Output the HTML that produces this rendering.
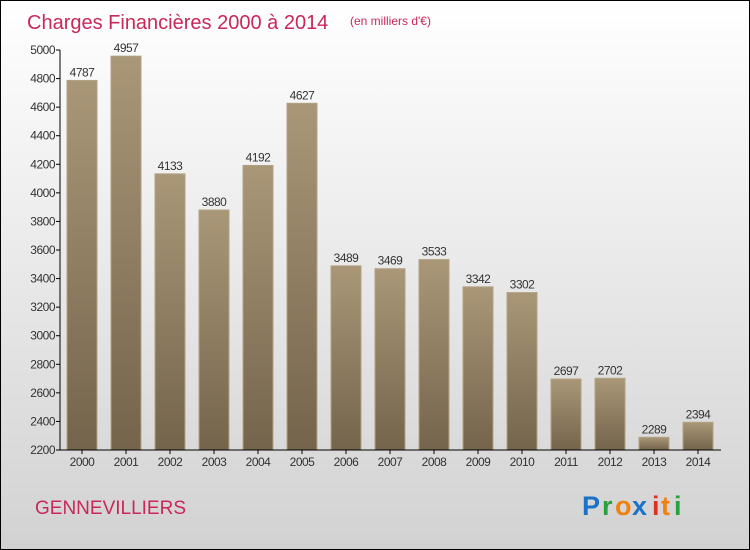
<!DOCTYPE html>
<html><head><meta charset="utf-8"><style>
body{margin:0;}
svg{display:block;font-family:"Liberation Sans",sans-serif;}
</style></head><body>
<svg id="c" width="750" height="550" xmlns="http://www.w3.org/2000/svg">
<defs>
<linearGradient id="bg" x1="0" y1="0" x2="0" y2="1"><stop offset="0" stop-color="#ffffff"/><stop offset="1" stop-color="#d2d2d2"/></linearGradient>
<linearGradient id="bar" x1="0" y1="0" x2="0" y2="1"><stop offset="0" stop-color="#a99778"/><stop offset="1" stop-color="#74644b"/></linearGradient>
</defs>
<rect x="0.5" y="0.5" width="749" height="549" fill="url(#bg)" stroke="#000"/>
<text x="27" y="29" font-size="20" fill="#c8285a">Charges Financières 2000 à 2014</text>
<text x="350" y="25" font-size="12" fill="#c8285a">(en milliers d'€)</text>
<text x="35" y="514" font-size="19" fill="#c8285a">GENNEVILLIERS</text>
<g font-size="27" font-weight="bold">
<text x="582" y="515" fill="#1a73c8">P</text><text x="602" y="515" fill="#2aa040">r</text><text x="615" y="515" fill="#f08010">o</text><text x="632" y="515" fill="#1a73c8">x</text><text x="652" y="515" fill="#e03020">i</text><text x="661" y="515" fill="#f08010">t</text><text x="674" y="515" fill="#2aa040">i</text>
</g>
<g id="plot"></g>
</svg>
<script>
const categories=["2000","2001","2002","2003","2004","2005","2006","2007","2008","2009","2010","2011","2012","2013","2014"];
const values=[4787,4957,4133,3880,4192,4627,3489,3469,3533,3342,3302,2697,2702,2289,2394];
const ticks=[2200,2400,2600,2800,3000,3200,3400,3600,3800,4000,4200,4400,4600,4800,5000];
const NS="http://www.w3.org/2000/svg";
const plotG=document.getElementById('plot');
const yMin=2200,yMax=5000,plotTop=50,plotBot=450;
function yS(v){return plotBot-(v-yMin)/(yMax-yMin)*(plotBot-plotTop);}
function xS(i){return 82+i*44;}
function mk(t,a){const e=document.createElementNS(NS,t);for(const k in a)e.setAttribute(k,a[k]);plotG.appendChild(e);return e;}
ticks.forEach(t=>{
 const l=mk('line',{x1:56,x2:60,y1:yS(t),y2:yS(t),stroke:'#000'});
 
 
 const tx=mk('text',{x:55,y:yS(t)+4,'font-size':12,'text-anchor':'end',fill:'#333','letter-spacing':'-0.5'});
 tx.textContent=t;
 
 
});
values.forEach((v,i)=>{
 const r=mk('rect',{x:xS(i)-15,y:yS(v),width:30,height:plotBot-yS(v),fill:'url(#bar)',stroke:'#b2a284','stroke-width':1});
 
 
 const lb=mk('text',{x:xS(i),y:yS(v)-4,'font-size':12,'text-anchor':'middle',fill:'#333','letter-spacing':'-0.5'});
 lb.textContent=v;
 
 
 const tk=mk('line',{x1:xS(i),x2:xS(i),y1:plotBot,y2:plotBot+4,stroke:'#000'});
 
 
 const xl=mk('text',{x:xS(i),y:plotBot+16,'font-size':12,'text-anchor':'middle',fill:'#333','letter-spacing':'-0.5'});
 xl.textContent=categories[i];
 
 
});
const ya=mk('line',{x1:60,x2:60,y1:plotTop,y2:plotBot,stroke:'#000'});


const xa=mk('line',{x1:60,x2:721,y1:plotBot,y2:plotBot,stroke:'#000'});


</script>
</body></html>
